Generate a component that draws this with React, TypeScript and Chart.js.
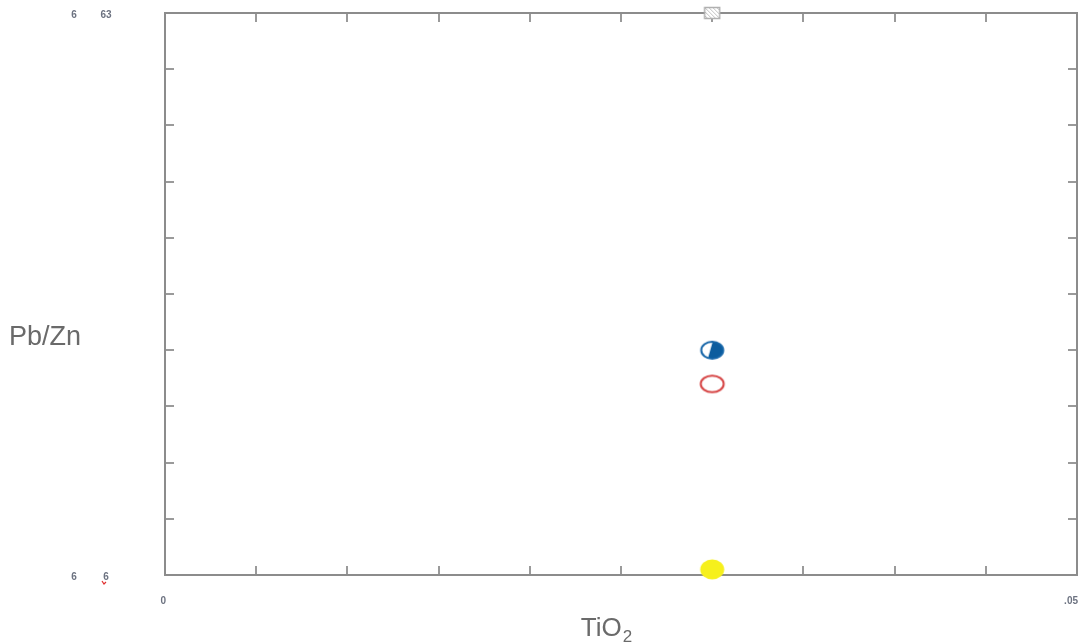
import React, { useEffect, useRef } from 'react';
import { Chart, registerables } from 'chart.js';

Chart.register(...registerables);

// Axis ranges and tick spacing
const xMin = 0;
const xMax = 0.05;
const xTickCount = 10;
const yMin = 0;
const yMax = 1;
const yTickCount = 10;

// Tick labels
const xTickValues = [0, 0.05];
const xTickLabels = ['0', '.05'];
const yTickValues = [1, 0];
const yTickLabelsInner = ['63', '6'];
const yTickLabelsOuter = ['6', '6'];

// Samples (one point per series)
const seriesNames = ['Hatched', 'Half-filled', 'Open', 'Filled'];
const seriesX = [0.03, 0.03, 0.03, 0.03];
const seriesY = [1.0, 0.4, 0.34, 0.01];

const FRAME = '#8c8c8c';
const TICK = '#9a9a9a';
const LABEL = '#6c7280';
const TITLE = '#6a6a6a';

function makeCanvas(w: number, h: number, draw: (c: CanvasRenderingContext2D) => void) {
  const cv = document.createElement('canvas');
  cv.width = w;
  cv.height = h;
  const c = cv.getContext('2d')!;
  draw(c);
  return cv;
}

function hatchedSquare() {
  return makeCanvas(18, 14, (c) => {
    c.fillStyle = '#ffffff';
    c.fillRect(1, 1, 16, 12);
    c.save();
    c.beginPath();
    c.rect(2, 2, 14, 10);
    c.clip();
    c.strokeStyle = '#c2c2c2';
    c.lineWidth = 1;
    for (let k = -12; k < 18; k += 4) {
      c.beginPath();
      c.moveTo(k, 0);
      c.lineTo(k + 14, 14);
      c.stroke();
    }
    c.restore();
    c.strokeStyle = '#b0b0b0';
    c.lineWidth = 1.5;
    c.strokeRect(1.5, 1.5, 15, 11);
  });
}

function halfCircle() {
  return makeCanvas(27, 21, (c) => {
    const cx = 13.5, cy = 10.5, rx = 11, ry = 8.5;
    c.beginPath();
    c.ellipse(cx, cy, rx, ry, 0, 0, Math.PI * 2);
    c.fillStyle = '#ffffff';
    c.fill();
    c.save();
    c.clip();
    c.beginPath();
    c.moveTo(cx + 1, 0);
    c.lineTo(27, 0);
    c.lineTo(27, 21);
    c.lineTo(cx - 5, 21);
    c.closePath();
    c.fillStyle = '#0b5c9e';
    c.fill();
    c.restore();
    c.beginPath();
    c.ellipse(cx, cy, rx, ry, 0, 0, Math.PI * 2);
    c.strokeStyle = '#1565a8';
    c.lineWidth = 2;
    c.stroke();
  });
}

function openCircle() {
  return makeCanvas(28, 21, (c) => {
    c.beginPath();
    c.ellipse(14, 10.5, 11.5, 8.3, 0, 0, Math.PI * 2);
    c.fillStyle = '#ffffff';
    c.fill();
    c.strokeStyle = '#d64545';
    c.lineWidth = 2;
    c.stroke();
  });
}

function filledCircle() {
  return makeCanvas(27, 23, (c) => {
    c.beginPath();
    c.ellipse(13.5, 11.5, 12, 10, 0, 0, Math.PI * 2);
    c.fillStyle = '#f6f01c';
    c.fill();
  });
}

const framePlugin = {
  id: 'frameAndTicks',
  beforeDatasetsDraw(chart: any) {
    const { ctx, chartArea: a, scales } = chart;
    const xs = scales.x;
    const ys = scales.y;
    ctx.save();
    ctx.strokeStyle = TICK;
    ctx.lineWidth = 2;
    const len = 9;
    for (let i = 1; i < xTickCount; i++) {
      const px = Math.round(xs.getPixelForValue(xMin + ((xMax - xMin) * i) / xTickCount));
      ctx.beginPath();
      ctx.moveTo(px, a.bottom);
      ctx.lineTo(px, a.bottom - len);
      ctx.moveTo(px, a.top);
      ctx.lineTo(px, a.top + len);
      ctx.stroke();
    }
    for (let i = 1; i < yTickCount; i++) {
      const py = Math.round(ys.getPixelForValue(yMin + ((yMax - yMin) * i) / yTickCount));
      ctx.beginPath();
      ctx.moveTo(a.left, py);
      ctx.lineTo(a.left + len, py);
      ctx.moveTo(a.right, py);
      ctx.lineTo(a.right - len, py);
      ctx.stroke();
    }
    ctx.strokeStyle = FRAME;
    ctx.lineWidth = 2;
    ctx.strokeRect(a.left, a.top, a.right - a.left, a.bottom - a.top);
    ctx.restore();
  },
  afterDraw(chart: any) {
    const { ctx, chartArea: a, scales } = chart;
    const xs = scales.x;
    const ys = scales.y;
    ctx.save();
    ctx.fillStyle = LABEL;
    ctx.font = 'bold 10px "Liberation Sans", Arial, sans-serif';
    ctx.textBaseline = 'middle';
    ctx.textAlign = 'right';
    xTickValues.forEach((v, i) => {
      ctx.fillText(xTickLabels[i], xs.getPixelForValue(v) + 1, a.bottom + 26);
    });
    ctx.textAlign = 'center';
    yTickValues.forEach((v, i) => {
      const py = ys.getPixelForValue(v) + 2;
      ctx.fillText(yTickLabelsOuter[i], a.left - 91, py);
      ctx.fillText(yTickLabelsInner[i], a.left - 59, py);
    });
    // small red mark under the lower inner label
    const py0 = ys.getPixelForValue(yMin);
    ctx.strokeStyle = '#e03030';
    ctx.lineWidth = 1.2;
    ctx.beginPath();
    ctx.moveTo(a.left - 63, py0 + 6);
    ctx.lineTo(a.left - 61, py0 + 9);
    ctx.lineTo(a.left - 59, py0 + 7);
    ctx.stroke();

    ctx.fillStyle = TITLE;
    ctx.font = '27px "Liberation Sans", Arial, sans-serif';
    ctx.textAlign = 'left';
    ctx.textBaseline = 'alphabetic';
    ctx.fillText('Pb/Zn', 9, (a.top + a.bottom) / 2 + 51);
    const cx = (a.left + a.right) / 2;
    const base = a.bottom + 61;
    const main = 'TiO';
    ctx.font = '26px "Liberation Sans", Arial, sans-serif';
    const wMain = ctx.measureText(main).width;
    ctx.font = '17px "Liberation Sans", Arial, sans-serif';
    const wSub = ctx.measureText('2').width;
    const start = cx - (wMain + wSub) / 2 - 15;
    ctx.font = '26px "Liberation Sans", Arial, sans-serif';
    ctx.fillText(main, start, base);
    ctx.font = '17px "Liberation Sans", Arial, sans-serif';
    ctx.fillText('2', start + wMain + 1, base + 6);
    ctx.restore();
  },
};

export default function App() {
  const ref = useRef<HTMLCanvasElement | null>(null);

  useEffect(() => {
    if (!ref.current) return;
    const styles = [hatchedSquare(), halfCircle(), openCircle(), filledCircle()];
    const chart = new Chart(ref.current, {
      type: 'scatter',
      data: {
        datasets: seriesNames.map((name, i) => ({
          label: name,
          data: [{ x: seriesX[i], y: seriesY[i] }],
          pointStyle: styles[i] as any,
          pointRadius: 10,
          clip: false as any,
        })),
      },
      options: {
        animation: false,
        responsive: true,
        maintainAspectRatio: false,
        layout: { autoPadding: false, padding: { left: 165, top: 13, right: 4, bottom: 69 } },
        plugins: { legend: { display: false }, tooltip: { enabled: false } },
        scales: {
          x: { type: 'linear', min: xMin, max: xMax, display: false },
          y: { type: 'linear', min: yMin, max: yMax, display: false },
        },
      },
      plugins: [framePlugin],
    });
    return () => chart.destroy();
  }, []);

  return (
    <div style={{ position: 'fixed', left: 0, top: 0, width: 1081, height: 644, background: '#ffffff' }}>
      <canvas ref={ref} />
    </div>
  );
}
